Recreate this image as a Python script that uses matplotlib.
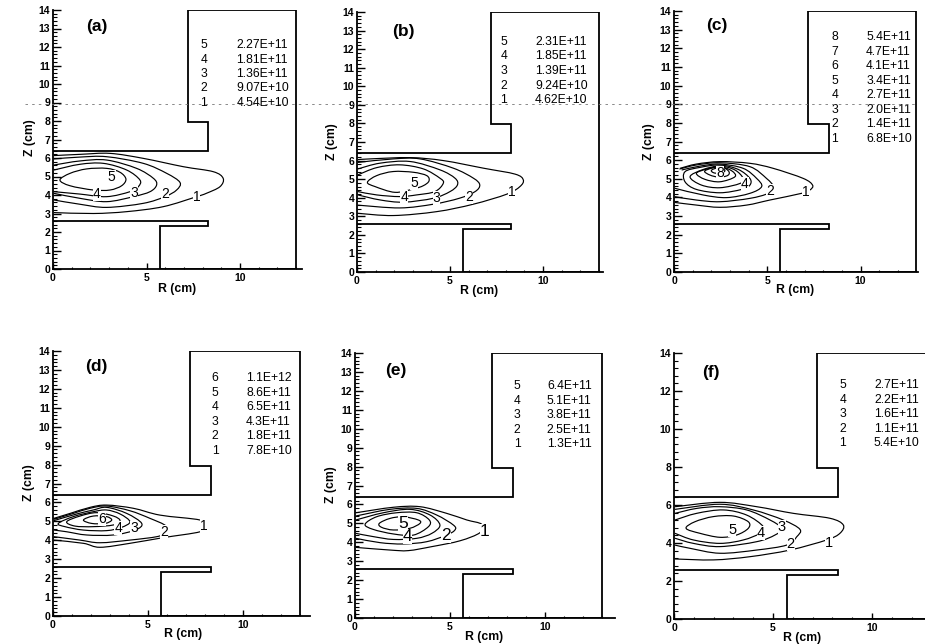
import matplotlib
matplotlib.use('Agg')
import matplotlib.pyplot as plt
from matplotlib.lines import Line2D
from matplotlib.patches import PathPatch
from matplotlib.path import Path

plt.rcParams['font.family'] = ['Liberation Sans', 'DejaVu Sans']

W, H = 925, 644

# Reactor wall outline (R, Z in cm), same for all panels
wall_r = [0, 8.3, 8.3, 7.2, 7.2, 13, 13, 5.7, 5.7, 8.3, 8.3, 0]
wall_z = [6.4, 6.4, 7.95, 7.95, 14, 14, 0, 0, 2.3, 2.3, 2.6, 2.6]

names = ['(a)', '(b)', '(c)', '(d)', '(e)', '(f)']

# Legend tables
levels_a = ['5', '4', '3', '2', '1']
values_a = ['2.27E+11', '1.81E+11', '1.36E+11', '9.07E+10', '4.54E+10']
levels_b = ['5', '4', '3', '2', '1']
values_b = ['2.31E+11', '1.85E+11', '1.39E+11', '9.24E+10', '4.62E+10']
levels_c = ['8', '7', '6', '5', '4', '3', '2', '1']
values_c = ['5.4E+11', '4.7E+11', '4.1E+11', '3.4E+11', '2.7E+11', '2.0E+11', '1.4E+11', '6.8E+10']
levels_d = ['6', '5', '4', '3', '2', '1']
values_d = ['1.1E+12', '8.6E+11', '6.5E+11', '4.3E+11', '1.8E+11', '7.8E+10']
levels_e = ['5', '4', '3', '2', '1']
values_e = ['6.4E+11', '5.1E+11', '3.8E+11', '2.5E+11', '1.3E+11']
levels_f = ['5', '4', '3', '2', '1']
values_f = ['2.7E+11', '2.2E+11', '1.6E+11', '1.1E+11', '5.4E+10']

# Contour lines, (R, Z) pairs
contours_a = [
    [(0.05, 6.13), (1.5, 6.2), (3.05, 6.25), (4.83, 5.98), (6.97, 5.53), (8.57, 5.26), (9.1, 4.9), (8.93, 4.45),
     (8.2, 4.09), (7.68, 3.91), (5.9, 3.37), (3.94, 3.1), (2.16, 3.0), (0.05, 3.05)],
    [(0.05, 5.95), (1.44, 6.05), (2.87, 6.07), (4.83, 5.71), (6.08, 5.17), (6.79, 4.68), (6.61, 4.27), (5.99, 3.91),
     (4.83, 3.55), (2.87, 3.33), (1.44, 3.5), (0.05, 3.73)],
    [(0.05, 5.62), (1.44, 5.84), (2.87, 5.89), (4.47, 5.44), (5.37, 4.9), (5.54, 4.54), (5.19, 4.18), (4.3, 3.91),
     (2.87, 3.64), (1.44, 3.82), (0.05, 4.09)],
    [(0.05, 5.35), (1.44, 5.66), (2.7, 5.71), (3.94, 5.35), (4.65, 4.81), (4.56, 4.45), (4.12, 4.18), (2.87, 3.91),
     (1.44, 4.05), (0.05, 4.18)],
    [(0.37, 4.81), (0.91, 5.17), (1.8, 5.41), (2.87, 5.44), (3.58, 5.23), (3.9, 4.86), (3.67, 4.5), (3.05, 4.27),
     (2.16, 4.27), (0.91, 4.5), (0.37, 4.81)],
]
contours_b = [
    [(0.05, 6.05), (0.7, 6.09), (2.85, 6.16), (4.64, 6.0), (6.8, 5.59), (8.5, 5.27), (8.94, 4.96), (8.76, 4.6),
     (8.05, 4.19), (6.25, 3.65), (4.28, 3.25), (1.95, 3.04), (0.05, 3.16)],
    [(0.05, 5.9), (1.95, 6.09), (3.39, 6.09), (5.18, 5.59), (6.26, 5.05), (6.6, 4.69), (6.35, 4.33), (5.5, 3.97),
     (4.1, 3.65), (2.3, 3.45), (0.05, 3.6)],
    [(0.05, 5.55), (1.24, 5.86), (2.85, 5.95), (4.46, 5.5), (5.27, 5.05), (5.4, 4.69), (5.0, 4.33), (4.1, 3.97),
     (2.5, 3.76), (1.24, 3.88), (0.05, 4.15)],
    [(0.05, 5.23), (1.06, 5.62), (2.3, 5.77), (3.57, 5.55), (4.46, 5.05), (4.64, 4.78), (4.19, 4.33), (3.2, 4.15),
     (2.3, 4.06), (1.06, 4.15), (0.05, 4.33)],
    [(0.56, 4.83), (1.06, 5.19), (1.95, 5.41), (3.03, 5.37), (3.75, 5.19), (3.87, 4.9), (3.57, 4.65), (3.03, 4.47),
     (2.04, 4.29), (0.97, 4.6), (0.56, 4.83)],
]
contours_c = [
    [(0.32, 5.56), (1.2, 5.79), (2.46, 5.92), (4.07, 5.83), (5.32, 5.56), (6.93, 5.02), (7.43, 4.66), (7.29, 4.4),
     (6.84, 4.22), (5.14, 3.86), (3.9, 3.59), (2.46, 3.47), (1.2, 3.59), (0.05, 3.73)],
    [(0.29, 5.52), (1.2, 5.74), (2.46, 5.86), (4.07, 5.65), (4.96, 5.02), (5.32, 4.58), (5.05, 4.22), (4.07, 3.95),
     (2.46, 3.77), (1.2, 3.86), (0.05, 4.04)],
    [(0.41, 5.47), (1.39, 5.68), (2.46, 5.79), (3.71, 5.56), (4.43, 5.02), (4.7, 4.58), (4.07, 4.22), (2.82, 3.99),
     (1.57, 4.13), (0.05, 4.49)],
    [(0.59, 5.38), (1.39, 5.61), (2.46, 5.74), (3.45, 5.5), (4.07, 5.02), (4.07, 4.66), (3.63, 4.43), (2.46, 4.25),
     (1.2, 4.43), (0.59, 4.84), (0.59, 5.38)],
    [(0.86, 5.11), (1.57, 5.5), (2.46, 5.68), (3.27, 5.47), (3.71, 5.02), (3.54, 4.75), (2.46, 4.52), (1.48, 4.66),
     (0.86, 5.11)],
    [(1.2, 5.29), (1.75, 5.52), (2.46, 5.65), (3.09, 5.43), (3.27, 5.11), (2.46, 4.84), (1.66, 4.97), (1.2, 5.29)],
    [(1.66, 5.43), (2.46, 5.65), (2.91, 5.43), (2.91, 5.2), (2.46, 5.08), (1.93, 5.2), (1.66, 5.43)],
    [(2.02, 5.47), (2.46, 5.61), (2.73, 5.43), (2.46, 5.29), (2.11, 5.33), (2.02, 5.47)],
]
contours_d = [
    [(0.05, 5.16), (0.9, 5.42), (1.95, 5.74), (2.82, 5.86), (4.23, 5.69), (5.63, 5.33), (7.74, 5.07), (7.95, 4.75),
     (7.74, 4.45), (5.8, 4.14), (4.05, 3.84), (2.47, 3.63), (1.6, 3.84), (0.05, 4.01)],
    [(0.05, 5.11), (1.07, 5.42), (1.95, 5.69), (2.82, 5.81), (4.05, 5.56), (5.1, 5.16), (5.95, 4.75), (5.8, 4.37),
     (5.46, 4.19), (4.05, 4.01), (2.47, 3.87), (1.42, 4.01), (0.05, 4.19)],
    [(0.05, 5.04), (1.25, 5.39), (2.12, 5.6), (2.82, 5.74), (3.88, 5.42), (4.67, 4.89), (4.32, 4.54), (3.18, 4.28),
     (1.77, 4.28), (0.72, 4.45), (0.05, 4.54)],
    [(0.28, 4.89), (1.07, 5.25), (2.12, 5.51), (2.82, 5.6), (3.53, 5.39), (4.05, 4.98), (3.6, 4.68), (2.82, 4.51),
     (1.6, 4.54), (0.63, 4.72), (0.28, 4.89)],
    [(0.72, 4.98), (1.42, 5.28), (2.3, 5.46), (3.18, 5.28), (3.53, 5.04), (3.18, 4.81), (2.12, 4.72), (1.16, 4.75),
     (0.72, 4.98)],
    [(1.6, 5.07), (2.12, 5.28), (2.82, 5.25), (3.09, 5.07), (2.74, 4.89), (2.04, 4.89), (1.6, 5.07)],
]
contours_e = [
    [(0.05, 5.56), (2.02, 5.85), (3.42, 5.88), (4.82, 5.53), (5.88, 5.18), (6.67, 4.95), (6.58, 4.51), (5.53, 4.08),
     (4.04, 3.77), (2.81, 3.56), (1.84, 3.59), (0.05, 3.73)],
    [(0.05, 5.39), (1.84, 5.74), (3.25, 5.79), (4.3, 5.44), (5.18, 4.91), (5.26, 4.65), (4.82, 4.38), (3.77, 4.03),
     (2.54, 3.91), (1.32, 3.98), (0.05, 4.21)],
    [(0.05, 5.18), (1.49, 5.56), (2.89, 5.74), (3.95, 5.44), (4.47, 4.91), (4.04, 4.47), (3.25, 4.21), (2.02, 4.15),
     (0.96, 4.3), (0.05, 4.47)],
    [(0.53, 4.95), (1.14, 5.35), (2.19, 5.56), (3.25, 5.56), (3.91, 5.18), (3.86, 4.82), (3.07, 4.38), (2.02, 4.44),
     (0.96, 4.68), (0.53, 4.95)],
    [(1.28, 5.0), (1.84, 5.26), (2.54, 5.35), (3.33, 5.18), (3.42, 5.0), (2.89, 4.74), (2.02, 4.65), (1.4, 4.79),
     (1.28, 5.0)],
]
contours_f = [
    [(0.05, 5.91), (2.32, 6.14), (4.18, 5.91), (6.03, 5.56), (7.88, 5.3), (8.55, 4.95), (8.38, 4.51), (7.71, 4.16),
     (5.86, 3.63), (3.84, 3.28), (1.99, 3.11), (0.05, 3.16)],
    [(0.05, 5.77), (2.32, 6.04), (4.0, 5.74), (5.52, 5.21), (6.36, 4.72), (6.2, 4.33), (5.69, 3.89), (4.18, 3.63),
     (2.32, 3.46), (0.81, 3.72), (0.05, 3.89)],
    [(0.05, 5.56), (1.14, 5.82), (2.32, 5.91), (3.67, 5.74), (4.85, 5.21), (5.44, 4.77), (5.1, 4.42), (4.18, 4.07),
     (2.32, 3.81), (0.98, 3.98), (0.05, 4.25)],
    [(0.05, 5.21), (1.14, 5.56), (2.49, 5.74), (3.67, 5.47), (4.51, 4.86), (4.34, 4.51), (3.5, 4.16), (2.32, 3.98),
     (0.98, 4.16), (0.05, 4.51)],
    [(0.61, 4.77), (1.06, 5.12), (1.99, 5.39), (3.0, 5.42), (3.75, 5.12), (3.75, 4.77), (3.16, 4.42), (2.32, 4.3),
     (1.31, 4.51), (0.61, 4.77)],
]

# Numbers sitting on the contours: (text, R, Z)
tags_a = [('5', 3.14, 4.95), ('4', 2.34, 4.04), ('3', 4.35, 4.09), ('2', 5.99, 4.05), ('1', 7.68, 3.91)]
tags_b = [('5', 3.07, 4.78), ('4', 2.53, 4.06), ('3', 4.28, 3.97), ('2', 6.02, 4.06), ('1', 8.3, 4.33)]
tags_c = [('8', 2.46, 5.29), ('4', 3.8, 4.7), ('2', 5.14, 4.36), ('1', 7.07, 4.27)]
tags_d = [('6', 2.56, 5.1), ('4', 3.44, 4.67), ('3', 4.28, 4.67), ('2', 5.86, 4.45), ('1', 7.95, 4.75)]
tags_e = [('5', 2.54, 5.0), ('4', 2.77, 4.3), ('2', 4.79, 4.38), ('1', 6.84, 4.56)]
tags_f = [('5', 2.95, 4.68), ('4', 4.38, 4.51), ('3', 5.44, 4.86), ('2', 5.89, 3.95), ('1', 7.85, 3.98)]

all_contours = [contours_a, contours_b, contours_c, contours_d, contours_e, contours_f]
all_tags = [tags_a, tags_b, tags_c, tags_d, tags_e, tags_f]
all_levels = [levels_a, levels_b, levels_c, levels_d, levels_e, levels_f]
all_values = [values_a, values_b, values_c, values_d, values_e, values_f]

# Layout per panel, in pixels of the scanned page
x0_px = [53, 357, 674, 53, 355, 674]
xend_px = [302, 603, 918, 310, 615, 925]
xscale = [18.7, 18.6, 18.65, 19.0, 19.0, 19.8]
y0_px = [269, 272, 272, 616, 618, 619]
y14_px = [10, 12, 11, 351, 353, 353]
name_rz = [(2.35, 13.1), (2.47, 12.95), (2.3, 13.2), (2.3, 13.2), (2.16, 13.05), (1.87, 12.95)]
leg_r = [(8.07, 9.8), (7.9, 9.57), (8.63, 10.3), (8.53, 10.16), (8.53, 10.1), (8.53, 10.1)]
leg_z = [(12.1, 0.78), (12.4, 0.79), (12.6, 0.78), (12.57, 0.77), (12.26, 0.77), (12.3, 0.76)]
xlabel_px = [(177, 289), (479, 291), (795, 290), (183, 634), (484, 637), (802, 638)]
ylabel_px = [(30, 138), (332, 142), (649, 142), (29, 483), (331, 485), None]
tag_size = [10, 10, 10, 10, 12.5, 10.5]


def smooth_path(pts):
    # Bezier curve passing through the read points, so contours are not angular
    closed = pts[0] == pts[-1]
    n = len(pts)
    verts = [pts[0]]
    codes = [Path.MOVETO]
    for k in range(n - 1):
        if closed:
            before = pts[k - 1] if k > 0 else pts[n - 2]
            after = pts[k + 2] if k + 2 < n else pts[1]
        else:
            before = pts[max(k - 1, 0)]
            after = pts[min(k + 2, n - 1)]
        a, b = pts[k], pts[k + 1]
        verts.append((a[0] + (b[0] - before[0]) / 6, a[1] + (b[1] - before[1]) / 6))
        verts.append((b[0] - (after[0] - a[0]) / 6, b[1] - (after[1] - a[1]) / 6))
        verts.append(b)
        codes += [Path.CURVE4, Path.CURVE4, Path.CURVE4]
    return Path(verts, codes)


def draw_panel(fig, i):
    x0, xend, y0, y14 = x0_px[i], xend_px[i], y0_px[i], y14_px[i]
    ax = fig.add_axes([x0 / W, 1 - y0 / H, (xend - x0) / W, (y0 - y14) / H])
    ax.set_xlim(0, (xend - x0) / xscale[i])
    ax.set_ylim(0, 14)
    ax.spines['top'].set_visible(False)
    ax.spines['right'].set_visible(False)
    ax.spines['left'].set_linewidth(1.3)
    ax.spines['bottom'].set_linewidth(1.3)

    ax.set_xticks([0, 5, 10])
    ax.set_xticks([v for v in range(1, 14) if v % 5 != 0 and v < ax.get_xlim()[1]], minor=True)
    if i == 5:
        # panel (f) only has even Z labels
        ax.set_yticks(range(0, 15, 2))
        ax.set_yticks([v * 0.4 for v in range(36) if v % 5 != 0], minor=True)
    else:
        ax.set_yticks(range(0, 15))
        ax.set_yticks([v * 0.2 for v in range(71) if v % 5 != 0], minor=True)
    ax.tick_params(axis='x', which='major', direction='in', length=4.5, width=1, pad=3, labelsize=7.5)
    ax.tick_params(axis='x', which='minor', direction='in', length=1.8, width=0.8)
    ax.tick_params(axis='y', which='major', direction='in', length=5.5, width=1, pad=2, labelsize=7.5)
    ax.tick_params(axis='y', which='minor', direction='in', length=3, width=0.8)
    for lab in ax.get_xticklabels() + ax.get_yticklabels():
        lab.set_fontweight('bold')

    ax.plot(wall_r, wall_z, color='black', lw=1.3, solid_joinstyle='miter')
    for line in all_contours[i]:
        ax.add_patch(PathPatch(smooth_path(line), fill=False, edgecolor='black', lw=0.85))
    for txt, r, z in all_tags[i]:
        ax.text(r, z, txt, fontsize=tag_size[i], ha='center', va='center', zorder=5,
                bbox=dict(fc='white', ec='none', pad=0))

    ax.text(name_rz[i][0], name_rz[i][1], names[i], fontsize=12.5, fontweight='bold', ha='center', va='center')

    zstart, zstep = leg_z[i]
    for k, (lev, val) in enumerate(zip(all_levels[i], all_values[i])):
        z = zstart - k * zstep
        ax.text(leg_r[i][0], z, lev, fontsize=8.7, ha='center', va='center')
        ax.text(leg_r[i][1], z, val, fontsize=8.7, ha='left', va='center')

    fig.text(xlabel_px[i][0] / W, 1 - xlabel_px[i][1] / H, 'R (cm)', fontsize=8.8, fontweight='bold',
             ha='center', va='center')
    if ylabel_px[i] is not None:
        fig.text(ylabel_px[i][0] / W, 1 - ylabel_px[i][1] / H, 'Z (cm)', fontsize=8.8, fontweight='bold',
                 rotation=90, ha='center', va='center')


fig = plt.figure(figsize=(W / 100, H / 100), dpi=100, facecolor='white')
for i in range(6):
    draw_panel(fig, i)

# Faint scan streak across the top row
fig.add_artist(Line2D([25 / W, 915 / W], [1 - 103.5 / H, 1 - 103.5 / H], transform=fig.transFigure,
                      color='#777777', lw=0.6, ls=(0, (3, 5))))

fig.savefig('out.png', dpi=100, facecolor='white')
plt.close(fig)
